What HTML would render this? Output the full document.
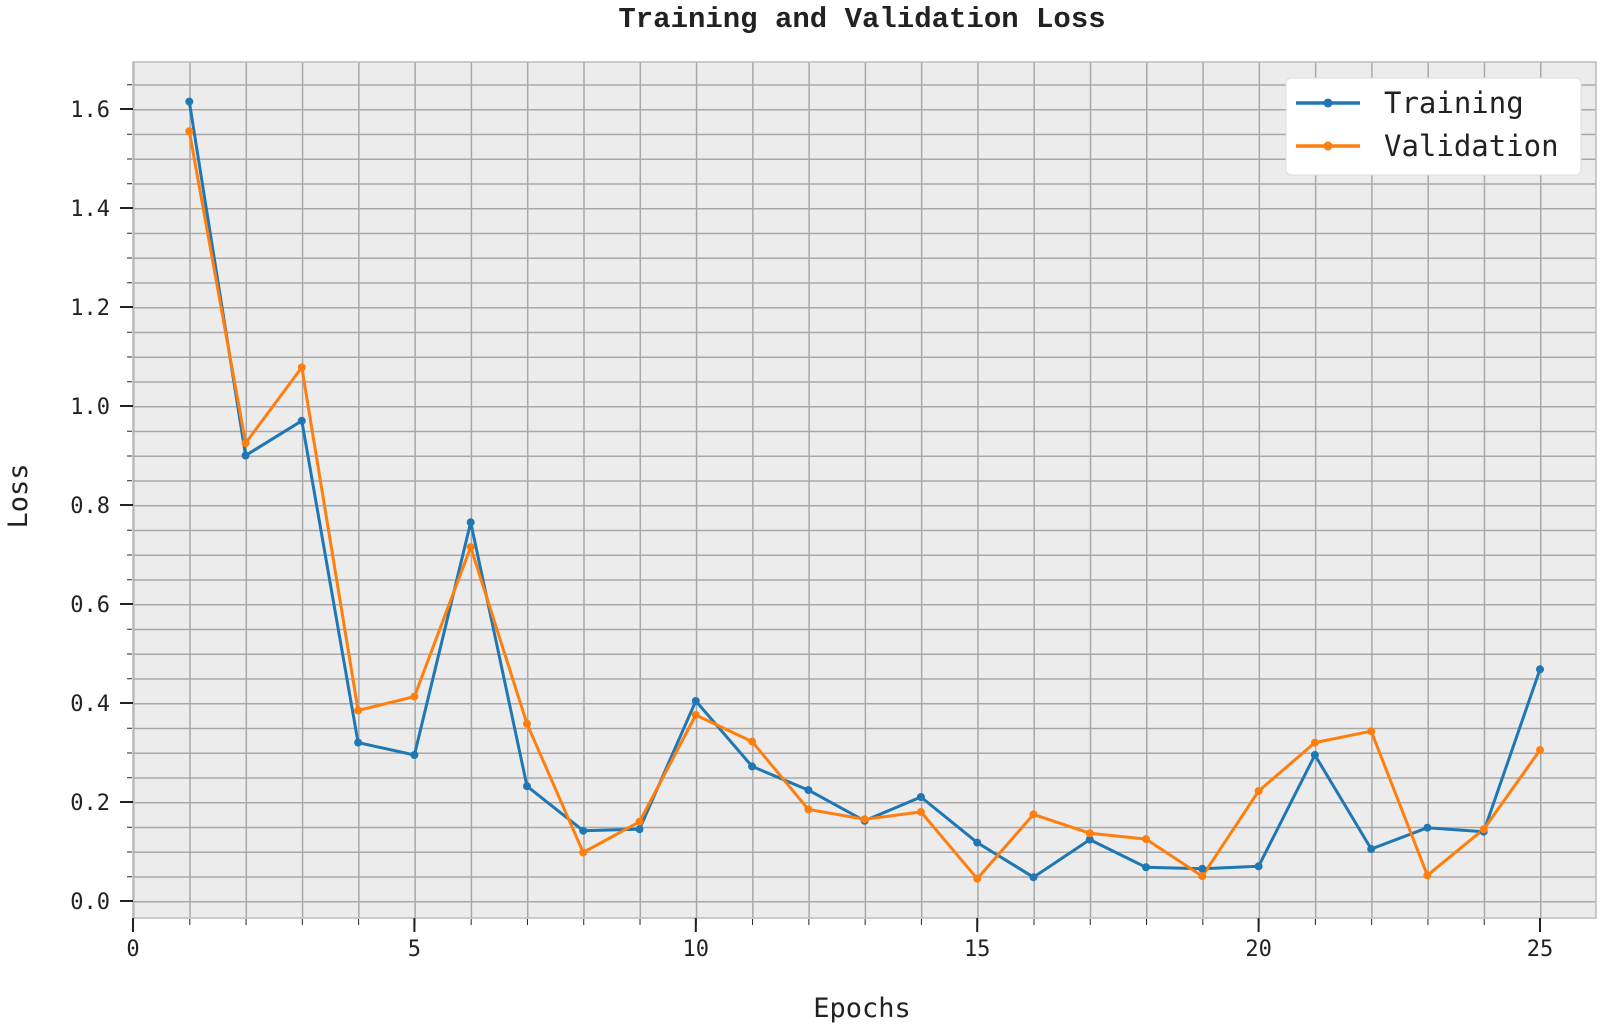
<!DOCTYPE html>
<html><head><meta charset="utf-8"><style>
body{margin:0;background:#fff;}
svg{display:block;}
text{font-family:"DejaVu Sans Mono","Liberation Mono",monospace;fill:#222;}
</style></head><body>
<svg width="1604" height="1028" viewBox="0 0 1604 1028" xmlns="http://www.w3.org/2000/svg">
<defs>
<pattern id="gv" patternUnits="userSpaceOnUse" x="133" y="0" width="56.28" height="1028">
<line x1="0" y1="0" x2="0" y2="1028" stroke="#a8a8a8" stroke-width="3"/>
</pattern>
<pattern id="gh" patternUnits="userSpaceOnUse" x="0" y="901" width="1604" height="24.75">
<line x1="0" y1="0" x2="1604" y2="0" stroke="#a8a8a8" stroke-width="3"/>
</pattern>
<pattern id="tv" patternUnits="userSpaceOnUse" x="133" y="0" width="56.28" height="1028">
<line x1="0" y1="0" x2="0" y2="1028" stroke="#222" stroke-width="2"/>
</pattern>
<pattern id="th" patternUnits="userSpaceOnUse" x="0" y="901" width="1604" height="24.75">
<line x1="0" y1="0" x2="1604" y2="0" stroke="#222" stroke-width="2"/>
</pattern>
</defs>
<text x="862" y="27" text-anchor="middle" font-size="29" font-weight="bold" style="font-family:'Liberation Mono',monospace">Training and Validation Loss</text>
<rect x="133" y="62" width="1463" height="856" fill="#ececec"/>
<rect x="133" y="62" width="1463" height="856" fill="url(#gh)"/>
<rect x="133" y="62" width="1463" height="856" fill="url(#gv)"/>
<rect x="133" y="62" width="1463" height="856" fill="none" stroke="#bbb" stroke-width="1.5"/>
<rect x="127" y="63" width="5" height="854" fill="url(#th)"/>
<rect x="134" y="919" width="1461" height="6" fill="url(#tv)"/>
<g stroke="#222" stroke-width="2">
<line x1="120" y1="109" x2="133" y2="109"/><line x1="120" y1="208" x2="133" y2="208"/>
<line x1="120" y1="307" x2="133" y2="307"/><line x1="120" y1="406" x2="133" y2="406"/>
<line x1="120" y1="505" x2="133" y2="505"/><line x1="120" y1="604" x2="133" y2="604"/>
<line x1="120" y1="703" x2="133" y2="703"/><line x1="120" y1="802" x2="133" y2="802"/>
<line x1="120" y1="901" x2="133" y2="901"/>
<line x1="133" y1="918" x2="133" y2="932"/><line x1="414.4" y1="918" x2="414.4" y2="932"/>
<line x1="695.8" y1="918" x2="695.8" y2="932"/><line x1="977.2" y1="918" x2="977.2" y2="932"/>
<line x1="1258.6" y1="918" x2="1258.6" y2="932"/><line x1="1540" y1="918" x2="1540" y2="932"/>
</g>
<g font-size="22" text-anchor="end">
<text x="110" y="117">1.6</text><text x="110" y="216">1.4</text><text x="110" y="315">1.2</text>
<text x="110" y="414">1.0</text><text x="110" y="513">0.8</text><text x="110" y="612">0.6</text>
<text x="110" y="711">0.4</text><text x="110" y="810">0.2</text><text x="110" y="909">0.0</text>
</g>
<g font-size="22" text-anchor="middle">
<text x="133" y="956">0</text><text x="414.4" y="956">5</text><text x="695.8" y="956">10</text>
<text x="977.2" y="956">15</text><text x="1258.6" y="956">20</text><text x="1540" y="956">25</text>
</g>
<text x="862" y="1017" text-anchor="middle" font-size="27">Epochs</text>
<text transform="translate(27,496) rotate(-90)" text-anchor="middle" font-size="27">Loss</text>
<g fill="none" stroke-width="3" stroke-linejoin="round">
<polyline stroke="#1f77b4" points="189.3,101.6 245.6,455.5 301.8,420.8 358.1,742.6 414.4,755 470.7,522.3 527,786.2 583.2,830.7 639.5,829.2 695.8,701 752.1,766.4 808.4,790.1 864.6,820.8 920.9,797 977.2,842.6 1033.5,877.2 1089.8,839.6 1146,867.3 1202.3,868.8 1258.6,866.3 1314.9,755 1371.2,849 1427.4,827.7 1483.7,831.7 1540,669.3"/>
<polyline stroke="#ff7f0e" points="189.3,131.3 245.6,443.1 301.8,367.4 358.1,710.4 414.4,696.6 470.7,547.1 527,723.8 583.2,852.5 639.5,821.8 695.8,715 752.1,741.6 808.4,809.4 864.6,819.3 920.9,811.9 977.2,878.7 1033.5,814.4 1089.8,833.2 1146,839.1 1202.3,876.2 1258.6,791.1 1314.9,742.6 1371.2,731.2 1427.4,875.3 1483.7,829.2 1540,750"/>
</g>
<g fill="#1f77b4">
<circle cx="189.3" cy="101.6" r="4"/><circle cx="245.6" cy="455.5" r="4"/><circle cx="301.8" cy="420.8" r="4"/><circle cx="358.1" cy="742.6" r="4"/><circle cx="414.4" cy="755" r="4"/><circle cx="470.7" cy="522.3" r="4"/><circle cx="527" cy="786.2" r="4"/><circle cx="583.2" cy="830.7" r="4"/><circle cx="639.5" cy="829.2" r="4"/><circle cx="695.8" cy="701" r="4"/><circle cx="752.1" cy="766.4" r="4"/><circle cx="808.4" cy="790.1" r="4"/><circle cx="864.6" cy="820.8" r="4"/><circle cx="920.9" cy="797" r="4"/><circle cx="977.2" cy="842.6" r="4"/><circle cx="1033.5" cy="877.2" r="4"/><circle cx="1089.8" cy="839.6" r="4"/><circle cx="1146" cy="867.3" r="4"/><circle cx="1202.3" cy="868.8" r="4"/><circle cx="1258.6" cy="866.3" r="4"/><circle cx="1314.9" cy="755" r="4"/><circle cx="1371.2" cy="849" r="4"/><circle cx="1427.4" cy="827.7" r="4"/><circle cx="1483.7" cy="831.7" r="4"/><circle cx="1540" cy="669.3" r="4"/>
</g>
<g fill="#ff7f0e">
<circle cx="189.3" cy="131.3" r="4"/><circle cx="245.6" cy="443.1" r="4"/><circle cx="301.8" cy="367.4" r="4"/><circle cx="358.1" cy="710.4" r="4"/><circle cx="414.4" cy="696.6" r="4"/><circle cx="470.7" cy="547.1" r="4"/><circle cx="527" cy="723.8" r="4"/><circle cx="583.2" cy="852.5" r="4"/><circle cx="639.5" cy="821.8" r="4"/><circle cx="695.8" cy="715" r="4"/><circle cx="752.1" cy="741.6" r="4"/><circle cx="808.4" cy="809.4" r="4"/><circle cx="864.6" cy="819.3" r="4"/><circle cx="920.9" cy="811.9" r="4"/><circle cx="977.2" cy="878.7" r="4"/><circle cx="1033.5" cy="814.4" r="4"/><circle cx="1089.8" cy="833.2" r="4"/><circle cx="1146" cy="839.1" r="4"/><circle cx="1202.3" cy="876.2" r="4"/><circle cx="1258.6" cy="791.1" r="4"/><circle cx="1314.9" cy="742.6" r="4"/><circle cx="1371.2" cy="731.2" r="4"/><circle cx="1427.4" cy="875.3" r="4"/><circle cx="1483.7" cy="829.2" r="4"/><circle cx="1540" cy="750" r="4"/>
</g>
<rect x="1286" y="78" width="295" height="97" rx="5" fill="#fff" stroke="#ddd" stroke-width="1"/>
<line x1="1296" y1="103" x2="1360" y2="103" stroke="#1f77b4" stroke-width="3.5"/>
<circle cx="1328" cy="103" r="4.5" fill="#1f77b4"/>
<line x1="1296" y1="146" x2="1360" y2="146" stroke="#ff7f0e" stroke-width="3.5"/>
<circle cx="1328" cy="146" r="4.5" fill="#ff7f0e"/>
<text x="1384" y="113" font-size="29">Training</text>
<text x="1384" y="156" font-size="29">Validation</text>
</svg>
</body></html>
